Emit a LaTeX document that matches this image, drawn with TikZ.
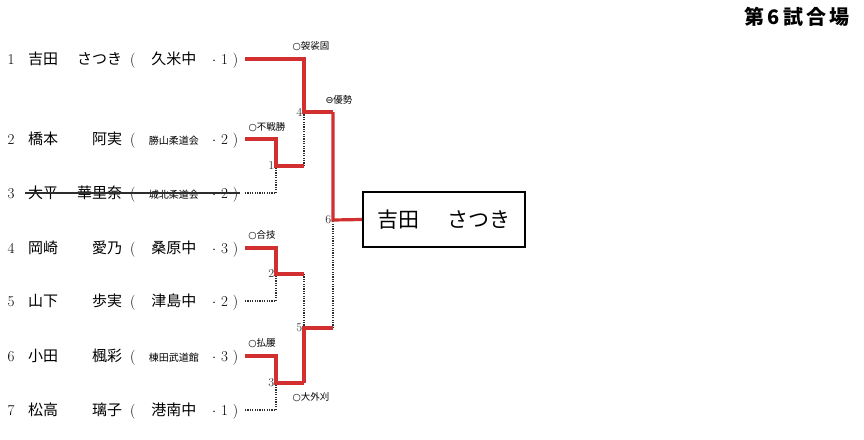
\documentclass[tikz,border=0pt]{standalone}
\usepackage{fontspec}
\newfontfamily\cjk{Noto Sans CJK JP}
\newfontfamily\symfont{DejaVu Sans}

\definecolor{winred}{RGB}{210,48,48}
\definecolor{inkgray}{RGB}{45,45,45}

\tikzset{
  entrant/.style={anchor=base west,inner sep=0pt,font=\cjk\fontsize{15}{18}\selectfont},
  numeral/.style={anchor=base,inner sep=0pt,font=\fontsize{15}{18}\selectfont},
  waza/.style={inner sep=0pt,font=\cjk\fontsize{9.5}{11}\selectfont},
  matchno/.style={left,inner sep=1.5pt,font=\fontsize{12}{14}\selectfont,text=inkgray},
  winline/.style={draw=winred,line width=3.2pt},
  loseline/.style={draw=inkgray,line width=1.3pt,dash pattern=on 1.2pt off 1.2pt},
}

\begin{document}
\begin{tikzpicture}[x=1pt,y=-1pt]
  \useasboundingbox (0,0) rectangle (864,439);

  \node[font=\cjk\bfseries\fontsize{20}{24}\selectfont] (court) at (797,17)
    {第\kern3pt 6\kern3pt 試\kern3pt 合\kern3pt 場};

  % entrants
  \node[numeral] (n1) at (11,64.5) {1};
  \node[entrant] (p1) at (28,64.5) {\makebox[94pt][s]{吉田\hfill さつき}};
  \node[numeral,anchor=base west] (c1) at (130,64.5)
    {\makebox[108pt][s]{(\hfill{\cjk 久米中}\hfill$\cdot$\hspace{5pt}1\hspace{5pt})}};

  \node[numeral] (n2) at (11,144.5) {2};
  \node[entrant] (p2) at (28,144.5) {\makebox[94pt][s]{橋本\hfill 阿実}};
  \node[numeral,anchor=base west] (c2) at (130,144.5)
    {\makebox[108pt][s]{(\hfill{\cjk\fontsize{10}{12}\selectfont 勝山柔道会}\hfill$\cdot$\hspace{5pt}2\hspace{5pt})}};

  \node[numeral] (n3) at (11,198.5) {3};
  \node[entrant] (p3) at (28,198.5) {\makebox[94pt][s]{大平\hfill 華里奈}};
  \node[numeral,anchor=base west] (c3) at (130,198.5)
    {\makebox[108pt][s]{(\hfill{\cjk\fontsize{10}{12}\selectfont 城北柔道会}\hfill$\cdot$\hspace{5pt}2\hspace{5pt})}};
  \draw[inkgray,line width=1.2pt] (25,193) -- (240,193);

  \node[numeral] (n4) at (11,253.5) {4};
  \node[entrant] (p4) at (28,253.5) {\makebox[94pt][s]{岡崎\hfill 愛乃}};
  \node[numeral,anchor=base west] (c4) at (130,253.5)
    {\makebox[108pt][s]{(\hfill{\cjk 桑原中}\hfill$\cdot$\hspace{5pt}3\hspace{5pt})}};

  \node[numeral] (n5) at (11,306.5) {5};
  \node[entrant] (p5) at (28,306.5) {\makebox[94pt][s]{山下\hfill 歩実}};
  \node[numeral,anchor=base west] (c5) at (130,306.5)
    {\makebox[108pt][s]{(\hfill{\cjk 津島中}\hfill$\cdot$\hspace{5pt}2\hspace{5pt})}};

  \node[numeral] (n6) at (11,361.5) {6};
  \node[entrant] (p6) at (28,361.5) {\makebox[94pt][s]{小田\hfill 楓彩}};
  \node[numeral,anchor=base west] (c6) at (130,361.5)
    {\makebox[108pt][s]{(\hfill{\cjk\fontsize{10}{12}\selectfont 棟田武道館}\hfill$\cdot$\hspace{5pt}3\hspace{5pt})}};

  \node[numeral] (n7) at (11,415.5) {7};
  \node[entrant] (p7) at (28,415.5) {\makebox[94pt][s]{松高\hfill 璃子}};
  \node[numeral,anchor=base west] (c7) at (130,415.5)
    {\makebox[108pt][s]{(\hfill{\cjk 港南中}\hfill$\cdot$\hspace{5pt}1\hspace{5pt})}};

  % bracket points
  \coordinate (s1) at (245,59);  \coordinate (s2) at (245,139);
  \coordinate (s3) at (245,193); \coordinate (s4) at (245,248);
  \coordinate (s5) at (245,301); \coordinate (s6) at (245,356);
  \coordinate (s7) at (245,410);
  \coordinate (j1) at (276,166); \coordinate (k1) at (304,166);
  \coordinate (j2) at (276,274); \coordinate (k2) at (304,274);
  \coordinate (j3) at (276,383); \coordinate (k3) at (304,383);
  \coordinate (j4) at (304,112); \coordinate (k4) at (333,112);
  \coordinate (j5) at (304,328); \coordinate (k5) at (333,328);
  \coordinate (j6) at (333,220);

  \node[draw,line width=2.4pt,minimum width=162pt,minimum height=55pt,
    font=\cjk\fontsize{21}{24}\selectfont] (champ) at (444,219.5)
    {吉田\hspace{29pt}さつき};

  % losing sides
  \draw[loseline] (s3) -| (j1);
  \draw[loseline] (s5) -| (j2);
  \draw[loseline] (s7) -| (j3);
  \draw[loseline] (k1) -- (j4);
  \draw[loseline] (k2) -- (j5);
  \draw[loseline] (k5) -- (j6);

  % winning sides
  \draw[winline] (s2) -| (j1) -- (k1);
  \draw[winline] (s4) -| (j2) -- (k2);
  \draw[winline] (s6) -| (j3) -- (k3);
  \draw[winline] (s1) -| (j4) -- (k4);
  \draw[winline] (k3) -- (j5) -- (k5);
  \draw[winline] (k4) -- (j6) -- (champ.west);

  \node[matchno] (m1) at (j1) {1};
  \node[matchno] (m2) at (j2) {2};
  \node[matchno] (m3) at (j3) {3};
  \node[matchno] (m4) at (j4) {4};
  \node[matchno] (m5) at (j5) {5};
  \node[matchno] (m6) at (j6) {6};

  \node[waza] (w1) at (267,127) {{\symfont ○}不戦勝};
  \node[waza] (w2) at (262,235) {{\symfont ○}合技};
  \node[waza] (w3) at (262,343) {{\symfont ○}払腰};
  \node[waza] (w4) at (311,46)  {{\symfont ○}袈裟固};
  \node[waza] (w5) at (311,397) {{\symfont ○}大外刈};
  \node[waza] (w6) at (339,100) {{\symfont ⊖}優勢};
\end{tikzpicture}
\end{document}
